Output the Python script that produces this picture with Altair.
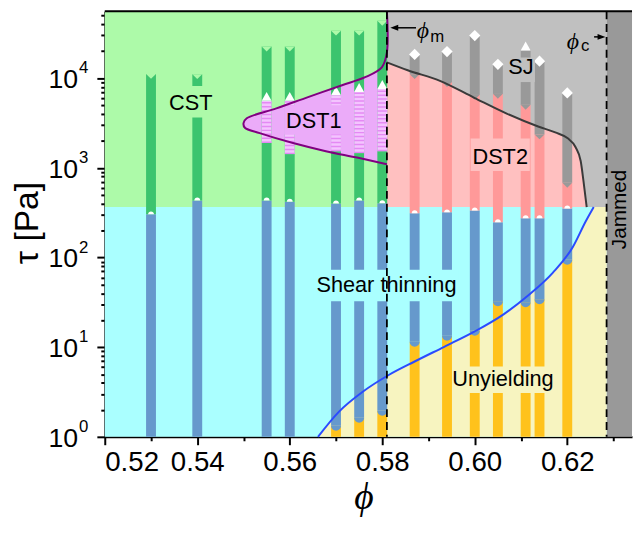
import altair as alt
import pandas as pd

# ---------------- constants / boundaries ----------------
PHI_M = 0.581
PHI_C = 0.6285
X_MIN, X_MAX = 0.52, 0.634
Y_MIN, Y_MAX = 1.0, 55800.0
TAU_B = 365.0

GREEN_BG, CYAN_BG, YELLOW_BG = "#adfaa9", "#aaffff", "#f7f4c0"
PINK_BG, GRAY_BG, JAM_BG, DST1_BG = "#ffc0c0", "#c0c0c0", "#999999", "#ebabf9"
GREEN, BLUE, YELLOW, PINK, GRAY = "#3cc46e", "#6699cc", "#ffc21c", "#ff9999", "#999999"

# ---------------- data ----------------
phi = [0.53, 0.54, 0.555, 0.56, 0.57, 0.575, 0.58, 0.587, 0.594, 0.60, 0.605, 0.611, 0.614, 0.62]
blue_bottom = [1, 1, 1, 1, 1.33, 1.63, 1.95, 11.5, 13.4, 15.2, 32.5, 31.7, 34.2, 94.4]
blue_top = [303, 432, 432, 418, 400, 432, 403, 311, 319, 335, 247, 274, 274, 352]
green_top = [11170, 11100, 22560, 22560, 33900, 33900, 43700]          # first 7 bars
dst1_phi = [0.555, 0.56, 0.57, 0.575, 0.58]
dst1_bottom = [1895, 1423, 1535, 1460, 1535]
dst1_top = [5590, 5590, 6450, 7030, 7590]
pink_top = [11100, 9060, 6520, 6690, 5060, 2360, 682]                  # last 7 bars
gray_top = [18400, 19850, 29900, 14300, 20400, 15460, 6860]
gray_marker = ["d", "d", "d", "d", "t", "d", "d"]

blue_phi = [0.5661, 0.5706, 0.5757, 0.5813, 0.5870, 0.5934, 0.5998, 0.6063, 0.6116, 0.6169, 0.6212, 0.6240, 0.6257]
blue_tau = [1.0, 1.90, 3.16, 4.86, 6.92, 10.1, 14.8, 23.4, 37.9, 67.8, 131, 254, 365]

black_phi = [0.5810, 0.5855, 0.5926, 0.5999, 0.6069, 0.6137, 0.6174, 0.6201, 0.6218, 0.6229, 0.6235, 0.6242]
black_tau = [15040, 12280, 9290, 6040, 4030, 2893, 2484, 2133, 1698, 1191, 718, 365]

dst1_bphi = [0.5810, 0.5748, 0.5678, 0.5607, 0.5535, 0.5503, 0.5500, 0.5507, 0.5571, 0.5641, 0.5713, 0.5763, 0.5799, 0.5810, 0.5810]
dst1_btau = [1097, 1295, 1535, 1890, 2440, 2800, 3150, 3570, 4600, 6200, 8340, 10260, 13200, 19400, 55800]

region_labels = ["CST", "DST1", "SJ", "DST2", "Shear thinning", "Unyielding"]
label_phi = [0.5386, 0.5652, 0.6100, 0.6055, 0.5809, 0.6061]
label_tau = [4450, 2750, 11100, 1104, 41.5, 3.70]
box_x1 = [0.5322, 0.5588, 0.6066, 0.5991, 0.5652, 0.5951]
box_x2 = [0.5447, 0.5716, 0.6130, 0.6119, 0.5965, 0.6179]
box_y1 = [3640, 2360, 9060, 925, 32.5, 3.08]
box_y2 = [8190, 5000, 17000, 2130, 73, 6.1]
box_col = [GREEN_BG, DST1_BG, GRAY_BG, PINK_BG, CYAN_BG, YELLOW_BG]

x_ticks = [round(0.52 + 0.01 * i, 2) for i in range(12)]
y_ticks = [k * 10 ** e for e in range(5) for k in range(1, 10) if k * 10 ** e <= Y_MAX]
y_label_tau = [1, 10, 100, 1000, 10000]
y_label_exp = ["0", "1", "2", "3", "4"]

# ---------------- scales & axes ----------------
xs = alt.Scale(domain=[X_MIN, X_MAX], nice=False, zero=False)
ys = alt.Scale(type="log", domain=[Y_MIN, Y_MAX], nice=False)

x_major = "abs(datum.value*50 - round(datum.value*50)) < 0.01"
y_major = "abs(log(datum.value)/LN10 - round(log(datum.value)/LN10)) < 0.001"

x_axis = alt.Axis(
    values=x_ticks, grid=False,
    labelExpr=f"{x_major} ? format(datum.value, '.2f') : ''",
    tickSize={"condition": {"test": x_major, "value": 8}, "value": 4},
    tickWidth=2, tickColor="black", domainColor="black", domainWidth=2,
    labelFont="Liberation Sans", labelFontSize=28, labelColor="black", labelPadding=4,
    title="ϕ", titleFont="Liberation Serif", titleFontStyle="italic", titleFontWeight="normal",
    titleFontSize=38, titleColor="black", titleY=62, titleX=262, titleBaseline="middle",
)
y_axis = alt.Axis(
    values=y_ticks, grid=False, labels=False,
    tickSize={"condition": {"test": y_major, "value": 8}, "value": 4},
    tickWidth=2, tickColor="black", domainColor="black", domainWidth=2,
    title="τ [Pa]", titleFont="Liberation Sans", titleFontWeight="normal", titleFontSize=34,
    titleColor="black", titleX=-78, titleY=214, titleAngle=270, titleAlign="center",
    titleBaseline="middle",
)


def X(f):
    return alt.X(f, type="quantitative", scale=xs, axis=x_axis)


def Y(f):
    return alt.Y(f, type="quantitative", scale=ys, axis=y_axis)


# ---------------- tables ----------------
bg = pd.DataFrame({
    "x1": [X_MIN, X_MIN, PHI_M, PHI_C],
    "x2": [PHI_M, PHI_C, PHI_C, X_MAX],
    "y1": [TAU_B, Y_MIN, TAU_B, Y_MIN],
    "y2": [Y_MAX, TAU_B, Y_MAX, Y_MAX],
    "c": [GREEN_BG, CYAN_BG, GRAY_BG, JAM_BG],
})
yellow_df = pd.DataFrame({"phi": blue_phi + [PHI_C], "tau": blue_tau + [TAU_B]})
blue_df = pd.DataFrame({"phi": blue_phi, "tau": blue_tau})
black_df = pd.DataFrame({"phi": black_phi, "tau": black_tau})
dst1_df = pd.DataFrame({"phi": dst1_bphi, "tau": dst1_btau, "i": list(range(len(dst1_bphi)))})

segs = []
for i, p in enumerate(phi):
    if blue_bottom[i] > 1:
        segs.append((p, 1.0, blue_bottom[i], YELLOW))
    segs.append((p, blue_bottom[i], blue_top[i], BLUE))
    if i < 7:
        segs.append((p, blue_top[i], green_top[i], GREEN))
    else:
        j = i - 7
        segs.append((p, blue_top[i], pink_top[j], PINK))
        segs.append((p, pink_top[j], gray_top[j], GRAY))
seg_df = pd.DataFrame(segs, columns=["phi", "lo", "hi", "c"])
stripe_df = pd.DataFrame({"phi": dst1_phi, "lo": dst1_bottom, "hi": dst1_top})

notch_df = pd.DataFrame({"phi": phi[:7], "tau": green_top})
chev_df = pd.DataFrame({"phi": phi[7:], "tau": pink_top})
diam_df = pd.DataFrame({"phi": [p for p, m in zip(phi[7:], gray_marker) if m == "d"],
                        "tau": [t for t, m in zip(gray_top, gray_marker) if m == "d"]})
tri_df = pd.DataFrame({"phi": dst1_phi + [p for p, m in zip(phi[7:], gray_marker) if m == "t"],
                       "tau": dst1_top + [t for t, m in zip(gray_top, gray_marker) if m == "t"]})
dome_df = pd.DataFrame({"phi": phi, "tau": blue_top})
cap_df = pd.DataFrame({"phi": [p for p, b in zip(phi, blue_bottom) if b > 1],
                       "tau": [b for b in blue_bottom if b > 1]})
box_df = pd.DataFrame({"x1": box_x1, "x2": box_x2, "y1": box_y1, "y2": box_y2, "c": box_col})
lab_df = pd.DataFrame({"phi": label_phi, "tau": label_tau, "t": region_labels})

NOTCH = "M -1 0 L 1 0 L 0 1 Z"
TRI = "M -1 0 L 1 0 L 0 -1.8 Z"
DOME = "M -1 0 A 1 1 0 0 1 1 0 Z"
CAP = "M -1 0 A 1 1 0 0 0 1 0 Z"


def pts(df, shape, size, color):
    return alt.Chart(df).mark_point(shape=shape, size=size, filled=True, opacity=1,
                                    strokeWidth=0, color=color).encode(x=X("phi"), y=Y("tau"))


layers = []
layers.append(alt.Chart(bg).mark_rect().encode(x=X("x1"), x2="x2", y=Y("y1"), y2="y2",
                                               color=alt.Color("c:N", scale=None)))
layers.append(alt.Chart(yellow_df).mark_area(interpolate="monotone", color=YELLOW_BG, opacity=1)
              .encode(x=X("phi"), y=Y("tau"), y2=alt.datum(Y_MIN)))
layers.append(alt.Chart(black_df).mark_area(interpolate="monotone", color=PINK_BG, opacity=1)
              .encode(x=X("phi"), y=Y("tau"), y2=alt.datum(TAU_B)))
# DST1 region fill: closed path (filled line)
layers.append(alt.Chart(dst1_df).mark_line(interpolate="catmull-rom", fill=DST1_BG, fillOpacity=1,
                                           stroke=DST1_BG, strokeWidth=0.5)
              .encode(x=X("phi"), y=Y("tau"), order="i:Q"))
# bars
layers.append(alt.Chart(seg_df).mark_rule(strokeWidth=10, strokeCap="butt")
              .encode(x=X("phi"), y=Y("lo"), y2="hi", color=alt.Color("c:N", scale=None)))
layers.append(alt.Chart(stripe_df).mark_rule(strokeWidth=10, strokeCap="butt", color="#f4c4ff")
              .encode(x=X("phi"), y=Y("lo"), y2="hi"))
layers.append(alt.Chart(stripe_df).mark_rule(strokeWidth=10, strokeCap="butt", color="#e489f4",
                                             strokeDash=[1.5, 2.5])
              .encode(x=X("phi"), y=Y("lo"), y2="hi"))
# markers
layers.append(pts(notch_df, NOTCH, 100, GREEN_BG))
layers.append(pts(chev_df, NOTCH, 100, GRAY))
layers.append(pts(cap_df, CAP, 100, BLUE))
layers.append(pts(dome_df, DOME, 36, "white"))
layers.append(pts(tri_df, TRI, 100, "white"))
layers.append(pts(diam_df, "diamond", 130, "white"))
# label backgrounds
layers.append(alt.Chart(box_df).mark_rect().encode(x=X("x1"), x2="x2", y=Y("y1"), y2="y2",
                                                   color=alt.Color("c:N", scale=None)))
# curves
layers.append(alt.Chart(dst1_df).mark_line(interpolate="catmull-rom", color="#800080", strokeWidth=2)
              .encode(x=X("phi"), y=Y("tau"), order="i:Q"))
layers.append(alt.Chart(black_df).mark_line(interpolate="monotone", color="#3a3a3a", strokeWidth=2)
              .encode(x=X("phi"), y=Y("tau")))
layers.append(alt.Chart(blue_df).mark_line(interpolate="monotone", color="#2a4bff", strokeWidth=2)
              .encode(x=X("phi"), y=Y("tau")))
# dashed phase lines & top frame
layers.append(alt.Chart(pd.DataFrame({"v": [PHI_M, PHI_C]}))
              .mark_rule(color="black", strokeWidth=1.8, strokeDash=[8, 5]).encode(x=X("v")))
layers.append(alt.Chart(pd.DataFrame({"v": [Y_MAX]}))
              .mark_rule(color="black", strokeWidth=2).encode(y=Y("v")))
# region labels
layers.append(alt.Chart(lab_df).mark_text(font="Liberation Sans", fontSize=22, color="black",
                                          align="center", baseline="alphabetic")
              .encode(x=X("phi"), y=Y("tau"), text="t:N"))
layers.append(alt.Chart(pd.DataFrame({"phi": [0.6314], "tau": [344], "t": ["Jammed"]}))
              .mark_text(font="Liberation Sans", fontSize=21, color="black", angle=270,
                         align="center", baseline="middle")
              .encode(x=X("phi"), y=Y("tau"), text="t:N"))
# phi_m / phi_c annotations
ann_sym = pd.DataFrame({"phi": [0.5888, 0.6212], "tau": [33400, 25600], "t": ["ϕ", "ϕ"]})
ann_sub = pd.DataFrame({"phi": [0.5919, 0.6239], "tau": [29100, 22600], "t": ["m", "c"]})
layers.append(alt.Chart(ann_sym).mark_text(font="Liberation Serif", fontStyle="italic", fontSize=24,
                                           color="black", align="center", baseline="middle")
              .encode(x=X("phi"), y=Y("tau"), text="t:N"))
layers.append(alt.Chart(ann_sub).mark_text(font="Liberation Sans", fontSize=17, color="black",
                                           align="center", baseline="middle")
              .encode(x=X("phi"), y=Y("tau"), text="t:N"))
arrow_df = pd.DataFrame({"x1": [0.5826, 0.6258], "x2": [0.5873, 0.6272], "y": [36500, 28900]})
layers.append(alt.Chart(arrow_df).mark_rule(color="black", strokeWidth=1.5)
              .encode(x=X("x1"), x2="x2", y=Y("y")))
head_df = pd.DataFrame({"phi": [0.5826, 0.6274], "tau": [36500, 28900],
                        "s": ["L", "R"]})
layers.append(pts(head_df[head_df.s == "L"], "M -1 0 L 1 -0.75 L 1 0.75 Z", 64, "black"))
layers.append(pts(head_df[head_df.s == "R"], "M 1 0 L -1 -0.75 L -1 0.75 Z", 64, "black"))
# y tick labels 10^n
ylab = pd.DataFrame({"phi": [X_MIN] * 5, "tau": y_label_tau, "b": ["10"] * 5, "e": y_label_exp})
layers.append(alt.Chart(ylab).mark_text(font="Liberation Sans", fontSize=27, color="black",
                                        align="right", baseline="middle", dx=-27, dy=2)
              .encode(x=X("phi"), y=Y("tau"), text="b:N"))
layers.append(alt.Chart(ylab).mark_text(font="Liberation Sans", fontSize=17, color="black",
                                        align="left", baseline="middle", dx=-26, dy=-10)
              .encode(x=X("phi"), y=Y("tau"), text="e:N"))

chart = alt.layer(*layers).properties(
    width=534, height=431,
    padding={"left": 98, "top": 0, "right": 2, "bottom": 86},
    autosize="none",
).configure_view(stroke=None)

chart.save("out.html", embed_options={"renderer": "svg", "actions": False})
